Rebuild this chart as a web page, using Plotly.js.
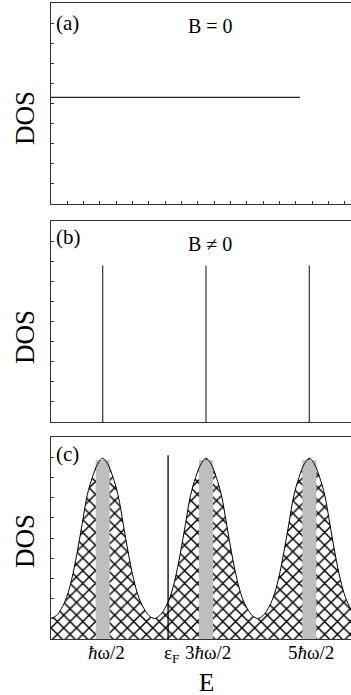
<!DOCTYPE html>
<html>
<head>
<meta charset="utf-8">
<script src="https://cdn.plot.ly/plotly-3.0.1.min.js"></script>
<style>
  html, body { margin: 0; padding: 0; overflow: hidden; background: #fff; }
  #plot { width: 361px; height: 695px; }
</style>
</head>
<body>
<div id="plot"></div>
<script>
// Energy axis in units of ħω; DOS in arbitrary units (0..10)
const energy = [0.00,0.05,0.10,0.15,0.20,0.25,0.30,0.35,0.40,0.45,
                0.50,0.55,0.60,0.65,0.70,0.75,0.80,0.85,0.90,0.95,
                1.00,1.05,1.10,1.15,1.20,1.25,1.30,1.35,1.40,1.45,
                1.50,1.55,1.60,1.65,1.70,1.75,1.80,1.85,1.90,1.95,
                2.00,2.05,2.10,2.15,2.20,2.25,2.30,2.35,2.40,2.45,
                2.50,2.55,2.60,2.65,2.70,2.75,2.80,2.85,2.90,2.95,3.00];

// (c) broadened Landau levels
const dosBroadened = [1.02,1.15,1.50,2.05,2.95,4.20,5.65,7.10,8.00,8.65,
                      8.95,8.65,8.00,7.10,5.65,4.20,2.95,2.05,1.50,1.15,
                      1.02,1.15,1.50,2.05,2.95,4.20,5.65,7.10,8.00,8.65,
                      8.95,8.65,8.00,7.10,5.65,4.20,2.95,2.05,1.50,1.15,
                      1.02,1.15,1.50,2.05,2.95,4.20,5.65,7.10,8.00,8.65,
                      8.95,8.65,8.00,7.10,5.65,4.20,2.95,2.05,1.50,1.15,1.02];

// Landau level energies and labels
const levelE = [0.5, 1.5, 2.5];
const levelLabels = ['<i>ħ</i>ω/2', '3<i>ħ</i>ω/2', '5<i>ħ</i>ω/2'];

// (a) constant 2D DOS without field
const freeE = [0.0, 2.41];
const freeDOS = [5.3, 5.3];

// (b) delta-function levels
const deltaHeight = [7.78, 7.78, 7.78];

// (c) core of each level and Fermi energy
const coreTop = [8.85, 8.85, 8.85];
const fermiE = 1.133;
const fermiTop = 9.1;

const serif = 'Liberation Serif';
const ink = '#222';

// helpers to build segment lists from arrays
function vSegX(xs) { const o = []; xs.forEach(x => o.push(x, x, null)); return o; }
function vSegY(tops) { const o = []; tops.forEach(t => o.push(0, t, null)); return o; }

const traces = [
  { x: freeE, y: freeDOS, xaxis: 'x', yaxis: 'y', mode: 'lines',
    line: { color: ink, width: 1.2 }, hoverinfo: 'skip' },

  { x: vSegX(levelE), y: vSegY(deltaHeight), xaxis: 'x2', yaxis: 'y2', mode: 'lines',
    line: { color: '#333', width: 1.2 }, hoverinfo: 'skip' },

  { x: energy, y: dosBroadened, xaxis: 'x3', yaxis: 'y3', mode: 'none',
    fill: 'tozeroy', fillcolor: '#fff',
    fillpattern: { shape: 'x', size: 9, solidity: 0.3, fgcolor: '#000', bgcolor: '#fff' },
    line: { shape: 'spline', width: 0 }, hoverinfo: 'skip' },

  { x: vSegX(levelE), y: vSegY(coreTop), xaxis: 'x3', yaxis: 'y3', mode: 'lines',
    line: { color: '#bebebe', width: 14 }, hoverinfo: 'skip' },

  { x: energy, y: dosBroadened, xaxis: 'x3', yaxis: 'y3', mode: 'lines',
    line: { shape: 'spline', color: '#000', width: 1 }, hoverinfo: 'skip' },

  { x: [fermiE, fermiE], y: [0, fermiTop], xaxis: 'x3', yaxis: 'y3', mode: 'lines',
    line: { color: '#000', width: 1.3 }, hoverinfo: 'skip' }
];

const frame = {
  showline: true, mirror: true, linecolor: '#333', linewidth: 1.3,
  showgrid: false, zeroline: false, showticklabels: false,
  ticks: 'inside', ticklen: 3, tickcolor: '#333', tickwidth: 1
};
const H = 636, W = 310;   // plot-area size in px
function px(x) { return (x - 51) / W; }
function py(y) { return (639 - y) / H; }

function note(text, x, y, size, extra) {
  return Object.assign({ text: text, xref: 'paper', yref: 'paper', x: px(x), y: py(y),
    showarrow: false, xanchor: 'center', yanchor: 'middle',
    font: { family: serif, size: size, color: '#000' } }, extra || {});
}

const annotations = [
  note('(a)', 54, 23, 21, { xanchor: 'left' }),
  note('B = 0', 210, 26, 20),
  note('(b)', 54, 237, 21, { xanchor: 'left' }),
  note('B ≠ 0', 210, 244, 20),
  note('(c)', 54, 454, 21, { xanchor: 'left' }),
  note('DOS', 25, 118, 27, { textangle: -90 }),
  note('DOS', 25, 337, 27, { textangle: -90 }),
  note('DOS', 25, 541, 27, { textangle: -90 }),
  note(levelLabels[0], 106, 652, 19),
  note('ε<sub>F</sub>', 171, 654, 19),
  note(levelLabels[1], 208, 652, 19),
  note(levelLabels[2], 311, 652, 19),
  note('E', 207, 682, 25)
];

const layout = {
  width: 361, height: 695,
  margin: { l: 51, r: 0, t: 3, b: 56 },
  paper_bgcolor: '#fff', plot_bgcolor: '#fff',
  showlegend: false,
  xaxis:  Object.assign({}, frame, { range: [0, 3], anchor: 'y', tick0: 0, dtick: 0.158 }),
  yaxis:  Object.assign({}, frame, { range: [0, 10], dtick: 1, domain: [435 / H, 1], anchor: 'x' }),
  xaxis2: Object.assign({}, frame, { range: [0, 3], anchor: 'y2', ticks: '' }),
  yaxis2: Object.assign({}, frame, { range: [0, 10], dtick: 1, domain: [217 / H, 418 / H], anchor: 'x2' }),
  xaxis3: Object.assign({}, frame, { range: [0, 3], anchor: 'y3', ticks: '' }),
  yaxis3: Object.assign({}, frame, { range: [0, 10], dtick: 1, domain: [0, 202 / H], anchor: 'x3' }),
  annotations: annotations
};

Plotly.newPlot('plot', traces, layout, { staticPlot: true, displayModeBar: false });
</script>
</body>
</html>
